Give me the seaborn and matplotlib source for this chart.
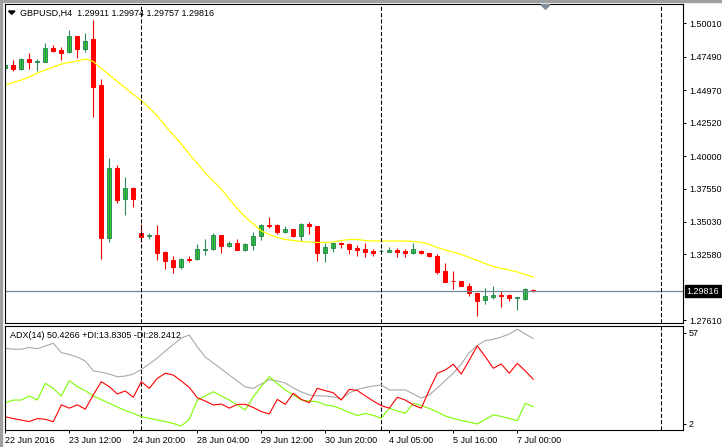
import pandas as pd
import seaborn as sns
import matplotlib.pyplot as plt
from matplotlib.patches import Rectangle, Polygon

# GBPUSD H4 candles
opens = [1.46640, 1.46843, 1.46564, 1.47296, 1.47070, 1.47115, 1.48125, 1.47997, 1.47823, 1.49053,
         1.48095, 1.48826, 1.45358, 1.33799, 1.39077, 1.36739, 1.37569, 1.34176, 1.33950, 1.34048,
         1.32743, 1.32163, 1.31658, 1.32261, 1.32215, 1.32917, 1.32969, 1.34025, 1.33241, 1.33422,
         1.32939, 1.33317, 1.33950, 1.34825, 1.34825, 1.34297, 1.34478, 1.33995, 1.34877, 1.34727,
         1.32668, 1.33090, 1.33467, 1.33347, 1.33068, 1.33007, 1.32864, 1.32827, 1.32789, 1.32939,
         1.32864, 1.32668, 1.32864, 1.32691, 1.32465, 1.31334, 1.30602, 1.30580, 1.30203, 1.29675,
         1.29124, 1.29396, 1.29501, 1.29524, 1.29320, 1.29245, 1.29911]
highs = [1.47017, 1.47220, 1.47416, 1.47793, 1.47341, 1.48547, 1.48374, 1.48246, 1.49505, 1.49053,
         1.49301, 1.50259, 1.45810, 1.39831, 1.39326, 1.38398, 1.37645, 1.34877, 1.34221, 1.34779,
         1.32842, 1.32465, 1.32314, 1.32465, 1.33369, 1.33746, 1.34176, 1.34025, 1.33596, 1.33746,
         1.33422, 1.34251, 1.34900, 1.35405, 1.34877, 1.34704, 1.34478, 1.34975, 1.35028, 1.34727,
         1.33467, 1.33520, 1.33520, 1.33422, 1.33294, 1.33445, 1.32992, 1.32992, 1.33143, 1.33090,
         1.33015, 1.33467, 1.32939, 1.32691, 1.32616, 1.31937, 1.31363, 1.30580, 1.30406, 1.29675,
         1.30052, 1.30203, 1.29849, 1.29599, 1.29350, 1.30029, 1.29974]
lows = [1.46564, 1.46436, 1.46489, 1.46587, 1.46436, 1.47070, 1.47823, 1.47243, 1.47748, 1.47394,
        1.47869, 1.42968, 1.32261, 1.33543, 1.36483, 1.35579, 1.36182, 1.33543, 1.33769, 1.32163,
        1.31507, 1.31206, 1.31507, 1.32035, 1.32163, 1.32563, 1.32917, 1.32713, 1.33166, 1.32939,
        1.32864, 1.32939, 1.33694, 1.34598, 1.34147, 1.34221, 1.33875, 1.33618, 1.34147, 1.32110,
        1.32035, 1.32789, 1.33068, 1.32638, 1.32465, 1.32412, 1.32487, 1.32691, 1.32766, 1.32412,
        1.32412, 1.32638, 1.32638, 1.32389, 1.31130, 1.30527, 1.29999, 1.30225, 1.29471, 1.27941,
        1.28869, 1.29245, 1.28641, 1.29094, 1.28416, 1.29170, 1.29757]
closes = [1.46866, 1.46587, 1.47296, 1.47070, 1.47168, 1.48125, 1.47944, 1.47793, 1.49053, 1.48095,
          1.48676, 1.45230, 1.33799, 1.39077, 1.36687, 1.37569, 1.36785, 1.33920, 1.34048, 1.32713,
          1.32110, 1.31658, 1.32215, 1.32163, 1.32969, 1.33015, 1.34025, 1.33241, 1.33422, 1.32939,
          1.33347, 1.33950, 1.34779, 1.34727, 1.34251, 1.34478, 1.33995, 1.34877, 1.34704, 1.32713,
          1.33120, 1.33422, 1.33347, 1.33015, 1.32939, 1.32789, 1.32668, 1.32857, 1.32917, 1.32789,
          1.32668, 1.32969, 1.32668, 1.32442, 1.31281, 1.30527, 1.30557, 1.30225, 1.29652, 1.29094,
          1.29426, 1.29501, 1.29426, 1.29320, 1.29350, 1.29954, 1.29816]
# moving average (yellow)
ma = [1.45358, 1.45547, 1.45735, 1.45961, 1.46263, 1.46487, 1.46715, 1.46941, 1.47054, 1.47168,
      1.47318, 1.47130, 1.46602, 1.46117, 1.45622, 1.45132, 1.44642, 1.44189, 1.43624, 1.43021,
      1.42267, 1.41588, 1.40909, 1.40155, 1.39439, 1.38723, 1.38120, 1.37516, 1.36763, 1.36047,
      1.35405, 1.34877, 1.34350, 1.34086, 1.33860, 1.33709, 1.33633, 1.33558, 1.33520, 1.33483,
      1.33483, 1.33520, 1.33633, 1.33709, 1.33709, 1.33633, 1.33596, 1.33596, 1.33596, 1.33596,
      1.33596, 1.33558, 1.33498, 1.33332, 1.33106, 1.32917, 1.32766, 1.32578, 1.32352, 1.32125,
      1.31899, 1.31673, 1.31522, 1.31409, 1.31258, 1.31070, 1.30881]

# ADX(14)
adx = [47.6, 47.0, 47.0, 48.1, 47.3, 49.0, 50.6, 45.0, 43.8, 42.3,
       39.9, 34.0, 33.1, 32.0, 30.4, 30.8, 32.0, 34.8, 38.1, 41.7,
       45.9, 49.9, 53.8, 55.6, 48.4, 42.3, 38.7, 35.1, 31.4, 27.8,
       24.2, 23.4, 26.0, 28.7, 27.8, 26.6, 23.6, 21.2, 19.4, 18.8,
       18.8, 18.2, 16.9, 20.6, 22.7, 23.9, 24.8, 25.4, 22.4, 22.4,
       22.4, 20.0, 17.5, 19.4, 23.6, 28.1, 32.5, 38.1, 45.0, 49.3,
       52.2, 53.0, 54.4, 56.2, 59.1, 56.2, 53.5]
plus_di = [14.7, 16.3, 16.3, 18.8, 16.3, 26.4, 23.4, 18.8, 28.0, 24.4,
           22.0, 18.8, 16.6, 14.3, 12.1, 10.0, 8.2, 6.2, 5.3, 4.2,
           3.3, 2.1, 0.6, 4.7, 16.3, 18.8, 21.3, 18.8, 16.3, 13.3,
           10.3, 18.3, 24.5, 30.4, 26.3, 22.4, 19.4, 16.3, 15.7, 15.3,
           13.3, 12.7, 10.9, 8.8, 7.0, 8.2, 7.0, 5.3, 11.4, 9.7,
           8.3, 14.3, 13.0, 11.2, 9.1, 6.7, 5.2, 3.9, 3.0, 1.8,
           4.5, 7.3, 6.4, 5.2, 3.8, 14.3, 12.3]
minus_di = [6.2, 5.1, 4.2, 3.3, 5.1, 4.7, 3.2, 13.4, 11.4, 13.4,
            10.8, 19.4, 27.4, 24.4, 20.0, 21.8, 18.0, 27.4, 23.4, 29.4,
            32.5, 31.4, 27.8, 23.9, 17.7, 15.7, 13.3, 13.9, 11.4, 13.7,
            13.7, 11.8, 9.3, 7.9, 16.7, 13.7, 20.4, 16.7, 14.7, 23.4,
            22.0, 20.7, 16.3, 22.8, 22.1, 18.8, 15.7, 12.9, 11.4, 18.0,
            16.3, 13.3, 11.4, 22.4, 32.5, 34.5, 37.9, 32.0, 40.5, 49.0,
            42.5, 35.5, 38.1, 32.5, 38.5, 33.9, 28.8]

time_ticks = [0, 8, 16, 24, 32, 40, 48, 56, 64]
time_labels = ["22 Jun 2016", "23 Jun 12:00", "24 Jun 20:00", "28 Jun 04:00", "29 Jun 12:00",
               "30 Jun 20:00", "4 Jul 05:00", "5 Jul 16:00", "7 Jul 00:00"]
separators = [17, 47, 82]
price_ticks = [1.50010, 1.47490, 1.44970, 1.42520, 1.40000, 1.37550, 1.35030, 1.32580, 1.27610]
adx_ticks = [57, 2]
last_price = 1.29816

bars = pd.DataFrame({"open": opens, "high": highs, "low": lows, "close": closes, "ma": ma})
bars["bar"] = range(len(bars))
ind = pd.DataFrame({"bar": range(len(adx)), "adx": adx, "plus": plus_di, "minus": minus_di})

sns.set_theme(style="white")
plt.rcParams["font.family"] = ["Liberation Sans", "DejaVu Sans"]
plt.rcParams["font.size"] = 6.5

W, H = 722, 447
fig = plt.figure(figsize=(7.22, 4.47), dpi=100)
fig.patch.set_facecolor("white")


def rect(x0, y0, x1, y1):
    return [x0 / W, 1 - y1 / H, (x1 - x0) / W, (y1 - y0) / H]


ax = fig.add_axes(rect(5, 4, 683, 322.5))
ax2 = fig.add_axes(rect(5, 325.5, 683, 429.5))
xlim = (-0.3 / 8, 677.7 / 8)

# candles
up = bars["close"] >= bars["open"]
wick_col = ["#2E8B57" if u else "red" for u in up]
ax.vlines(bars["bar"], bars["low"], bars["high"], colors=wick_col, lw=0.8)
body_low = bars[["open", "close"]].min(axis=1)
body_h = (bars["close"] - bars["open"]).abs().clip(lower=0.00015)
ax.bar(bars["bar"], body_h, bottom=body_low, width=0.5,
       color=["#32CD32" if u else "red" for u in up],
       edgecolor=["#2E8B57" if u else "red" for u in up], lw=0.7)
sns.lineplot(data=bars, x="bar", y="ma", color="yellow", lw=0.9, ax=ax)

ax.axhline(last_price, color="#778899", lw=0.9)
for s in separators:
    ax.axvline(s, color="black", lw=0.75, ls=(0, (4, 2)))
    ax2.axvline(s, color="black", lw=0.75, ls=(0, (4, 2)))

ax.set_xlim(*xlim)
ax.set_ylim(1.27451, 1.51465)
ax.set_xticks([])
ax.yaxis.tick_right()
ax.set_yticks(price_ticks)
ax.set_yticklabels([f"{p:.5f}" for p in price_ticks])
ax.set_xlabel("")
ax.set_ylabel("")
ax.annotate(f"{last_price:.5f}", xy=(1, last_price), xycoords=("axes fraction", "data"),
            xytext=(2.5, 0), textcoords="offset points", ha="left", va="center",
            color="white", fontsize=6.5, annotation_clip=False,
            bbox=dict(boxstyle="square,pad=0.2", fc="black", ec="black"))

# ADX panel
sns.lineplot(data=ind, x="bar", y="adx", color="#A9A9A9", lw=0.8, ax=ax2)
sns.lineplot(data=ind, x="bar", y="plus", color="#7CFC00", lw=0.8, ax=ax2)
sns.lineplot(data=ind, x="bar", y="minus", color="red", lw=0.8, ax=ax2)
ax2.set_xlim(*xlim)
ax2.set_ylim(-1.5, 61.36)
ax2.yaxis.tick_right()
ax2.set_yticks(adx_ticks)
ax2.set_yticklabels([str(v) for v in adx_ticks])
ax2.set_xticks(time_ticks)
ax2.set_xticklabels(time_labels, ha="left")
ax2.set_xlabel("")
ax2.set_ylabel("")

for a in (ax, ax2):
    for sp in a.spines.values():
        sp.set_color("black")
        sp.set_linewidth(0.8)
    a.tick_params(axis="both", direction="out", length=2.2, width=0.7, color="black",
                  pad=2, labelsize=6.5, labelcolor="black")
    a.tick_params(axis="y", right=True, left=False, labelright=True, labelleft=False)
ax2.tick_params(axis="x", bottom=True, pad=2.5)

# chart header texts
fig.text(20 / W, 1 - 13 / H, "GBPUSD,H4  1.29911 1.29974 1.29757 1.29816",
         fontsize=6.5, va="center", ha="left", color="black")
fig.text(10 / W, 1 - 335 / H, "ADX(14) 50.4266 +DI:13.8305 -DI:28.2412",
         fontsize=6.5, va="center", ha="left", color="black")


def px(pts):
    return [(x / W, 1 - y / H) for x, y in pts]


fig.add_artist(Polygon(px([(8.5, 11), (15, 11), (11.75, 14.3)]), closed=True,
                       transform=fig.transFigure, color="black"))
fig.add_artist(Polygon(px([(541, 4.7), (550, 4.7), (545.5, 9.3)]), closed=True,
                       transform=fig.transFigure, color="#7F8C99"))
fig.add_artist(Rectangle((0, 1 - 1.7 / H), 1, 1.7 / H, transform=fig.transFigure,
                         color="#A0A0A0"))
fig.add_artist(Rectangle((0, 0), 1.7 / W, 1, transform=fig.transFigure, color="#A0A0A0"))

plt.savefig("out.png", dpi=100)
